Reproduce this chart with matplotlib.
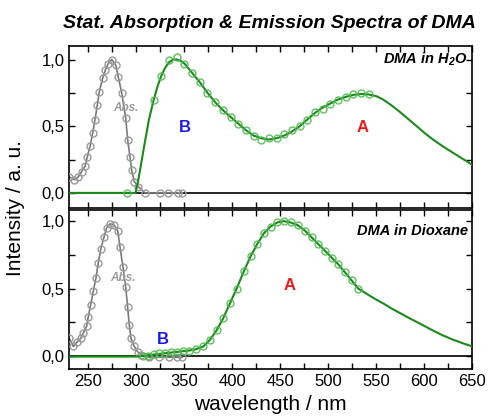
import matplotlib
matplotlib.use("Agg")
import matplotlib.pyplot as plt
from matplotlib.ticker import MultipleLocator, FuncFormatter

plt.rcParams['font.family'] = ['Liberation Sans', 'DejaVu Sans']
plt.rcParams['mathtext.fontset'] = 'custom'
plt.rcParams['mathtext.bf'] = 'Liberation Sans:italic:bold'
plt.rcParams['mathtext.rm'] = 'Liberation Sans'

# ---------------- data: DMA in H2O (top) ----------------
h2o_abs_nm = [230.0, 234.9, 239.4, 242.9, 246.4, 248.8, 251.6, 254.4, 256.8, 259.2,
              261.3, 264.8, 267.5, 270.6, 274.2, 278.3, 281.0, 284.6, 288.8, 290.8,
              293.2, 295.0, 297.7, 301.9, 308.9, 324.5, 332.8, 343.5, 347.9]
h2o_abs_val = [0.12, 0.10, 0.12, 0.16, 0.20, 0.27, 0.35, 0.45, 0.55, 0.66,
               0.76, 0.86, 0.92, 0.97, 1.00, 0.96, 0.87, 0.75, 0.56, 0.40,
               0.27, 0.17, 0.085, 0.047, 0.0, 0.0, 0.0, 0.0, 0.0]

h2o_em_nm = [290, 318, 326, 334, 342, 350, 358, 366, 374, 382, 390, 398, 406, 414,
             422, 430, 438, 446, 454, 462, 470, 478, 486, 494, 502, 510, 518, 526,
             534, 542]
h2o_em_val = [0.0, 0.70, 0.88, 1.00, 1.02, 0.97, 0.90, 0.83, 0.75, 0.68, 0.62, 0.57,
              0.52, 0.47, 0.43, 0.40, 0.41, 0.41, 0.44, 0.47, 0.50, 0.55, 0.61, 0.63,
              0.67, 0.70, 0.72, 0.74, 0.75, 0.74]

h2o_fit_nm = [230, 299, 302, 308, 313, 318, 322, 326, 330, 334, 338, 342, 346, 350,
              358, 366, 374, 382, 390, 398, 406, 414, 422, 430, 438, 446, 454, 462,
              470, 478, 486, 494, 502, 510, 518, 526, 534, 542, 550, 557, 565, 574,
              583, 592, 600, 609, 619, 630, 640, 650]
h2o_fit_val = [0.0, 0.0, 0.10, 0.35, 0.55, 0.70, 0.80, 0.88, 0.94, 0.98, 1.00, 1.00,
               0.99, 0.97, 0.90, 0.83, 0.75, 0.68, 0.62, 0.57, 0.52, 0.47, 0.43, 0.41,
               0.40, 0.41, 0.43, 0.46, 0.50, 0.55, 0.60, 0.64, 0.67, 0.70, 0.72, 0.735,
               0.742, 0.738, 0.725, 0.70, 0.66, 0.61, 0.555, 0.50, 0.45, 0.40, 0.35,
               0.30, 0.255, 0.21]

# ---------------- data: DMA in Dioxane (bottom) ----------------
diox_abs_nm = [230.0, 234.2, 237.7, 241.9, 244.6, 248.1, 249.8, 252.3, 255.0, 257.8,
               260.2, 262.7, 266.1, 268.9, 272.4, 276.6, 280.4, 282.8, 285.9, 288.8,
               290.8, 292.5, 294.3, 297.7, 301.3, 304.7, 313.4, 323.8, 334.2, 342.5,
               347.7]
diox_abs_val = [0.13, 0.07, 0.10, 0.13, 0.17, 0.22, 0.29, 0.38, 0.48, 0.58,
                0.69, 0.79, 0.88, 0.95, 0.98, 0.97, 0.93, 0.81, 0.66, 0.51,
                0.36, 0.23, 0.13, 0.07, 0.03, 0.01, -0.01, -0.01, -0.01, -0.01,
                -0.01]

diox_em_nm = [306.5, 312.3, 318.2, 323.8, 329.7, 335.6, 341.9, 348.1, 355.0, 362.0,
              369.6, 376.6, 383.5, 390.4, 397.4, 404.4, 412.0, 419.0, 425.8, 432.8,
              439.8, 446.7, 453.6, 460.6, 467.9, 475.5, 482.5, 489.4, 496.4, 503.3,
              510.2, 517.2, 524.2, 531.0]
diox_em_val = [0.0, 0.0, 0.015, 0.02, 0.025, 0.03, 0.03, 0.035, 0.04, 0.05,
               0.07, 0.12, 0.19, 0.28, 0.39, 0.50, 0.63, 0.74, 0.83, 0.91,
               0.96, 0.99, 1.00, 0.99, 0.97, 0.93, 0.88, 0.83, 0.78, 0.73,
               0.68, 0.62, 0.56, 0.50]

diox_fit_nm = [230, 300, 306.5, 312.3, 318.2, 323.8, 329.7, 335.6, 341.9, 348.1,
               355.0, 362.0, 369.6, 376.6, 383.5, 390.4, 397.4, 404.4, 412.0, 419.0,
               425.8, 432.8, 439.8, 446.7, 453.6, 460.6, 467.9, 475.5, 482.5, 489.4,
               496.4, 503.3, 510.2, 517.2, 524.2, 531.0, 540, 548, 557, 565, 574,
               583, 592, 600, 609, 619, 630, 640, 650]
diox_fit_val = [-0.005, -0.005, 0.0, 0.005, 0.01, 0.015, 0.02, 0.025, 0.03, 0.035,
                0.04, 0.05, 0.07, 0.12, 0.19, 0.28, 0.39, 0.50, 0.63, 0.74,
                0.83, 0.91, 0.96, 0.99, 1.00, 0.99, 0.97, 0.93, 0.88, 0.83,
                0.78, 0.73, 0.68, 0.62, 0.56, 0.50, 0.46, 0.425, 0.39, 0.355, 0.32,
                0.285, 0.252, 0.222, 0.188, 0.153, 0.12, 0.094, 0.07]

x_ticks = [250, 300, 350, 400, 450, 500, 550, 600, 650]
y_ticks = [0.0, 0.5, 1.0]

# ---------------- styling ----------------
fit_color = '#1a8a1a'
pt_color = '#4db84d'
abs_line = '#7a7a7a'
abs_pt = '#9a9a9a'

fig = plt.figure(figsize=(4.88, 4.16), dpi=100)
ax_top = fig.add_axes([0.142, 0.501, 0.826, 0.388])
ax_bot = fig.add_axes([0.142, 0.112, 0.826, 0.384])

comma = FuncFormatter(lambda v, p: f"{v:.1f}".replace('.', ','))

panels = [
    (ax_top, h2o_abs_nm, h2o_abs_val, h2o_em_nm, h2o_em_val, h2o_fit_nm, h2o_fit_val,
     (-0.11, 1.10)),
    (ax_bot, diox_abs_nm, diox_abs_val, diox_em_nm, diox_em_val, diox_fit_nm, diox_fit_val,
     (-0.10, 1.085)),
]

for ax, anm, aval, enm, evl, fnm, fvl, ylim in panels:
    ax.axhline(0, color='black', lw=1.2, zorder=1)
    ax.plot(anm, aval, color=abs_line, lw=1.2, zorder=2)
    ax.plot(anm, aval, ls='none', marker='o', ms=5.0, mfc='none', mec=abs_pt,
            mew=1.0, zorder=3)
    ax.plot(fnm, fvl, color=fit_color, lw=1.5, zorder=4)
    ax.plot(enm, evl, ls='none', marker='o', ms=5.0, mfc='none', mec=pt_color,
            mew=1.0, alpha=0.9, zorder=5)
    ax.set_xlim(230, 650)
    ax.set_ylim(*ylim)
    ax.set_xticks(x_ticks)
    ax.xaxis.set_minor_locator(MultipleLocator(25))
    ax.set_yticks(y_ticks)
    ax.yaxis.set_minor_locator(MultipleLocator(0.25))
    ax.yaxis.set_major_formatter(comma)
    ax.tick_params(which='both', direction='in', top=True, right=True,
                   length=4, width=1.0, labelsize=12)
    for s in ax.spines.values():
        s.set_linewidth(1.2)

ax_top.tick_params(labelbottom=False)
ax_bot.set_xlabel('wavelength / nm', fontsize=15, labelpad=4)
fig.text(0.032, 0.5, 'Intensity / a. u.', rotation=90, fontsize=15,
         ha='center', va='center')

fig.text(0.552, 0.943, 'Stat. Absorption & Emission Spectra of DMA', fontsize=14,
         fontweight='bold', fontstyle='italic', ha='center', va='center')

# annotations
ax_top.text(645, 1.0, r'DMA in H$_\mathbf{2}$O', fontsize=10.5, fontweight='bold',
            fontstyle='italic', ha='right', va='center')
ax_bot.text(645, 0.93, 'DMA in Dioxane', fontsize=10.5, fontweight='bold',
            fontstyle='italic', ha='right', va='center')
ax_top.text(289, 0.64, 'Abs.', fontsize=8.5, fontweight='bold', fontstyle='italic',
            color='#9c9c9c', ha='center', va='center')
ax_bot.text(286, 0.58, 'Abs.', fontsize=8.5, fontweight='bold', fontstyle='italic',
            color='#9c9c9c', ha='center', va='center')
ax_top.text(350, 0.49, 'B', fontsize=12, fontweight='bold', color='#1a1aee',
            ha='center', va='center')
ax_top.text(536, 0.49, 'A', fontsize=12, fontweight='bold', color='#ee1a1a',
            ha='center', va='center')
ax_bot.text(328, 0.12, 'B', fontsize=12, fontweight='bold', color='#1a1aee',
            ha='center', va='center')
ax_bot.text(460, 0.52, 'A', fontsize=12, fontweight='bold', color='#ee1a1a',
            ha='center', va='center')

fig.savefig('out.png', dpi=100)
